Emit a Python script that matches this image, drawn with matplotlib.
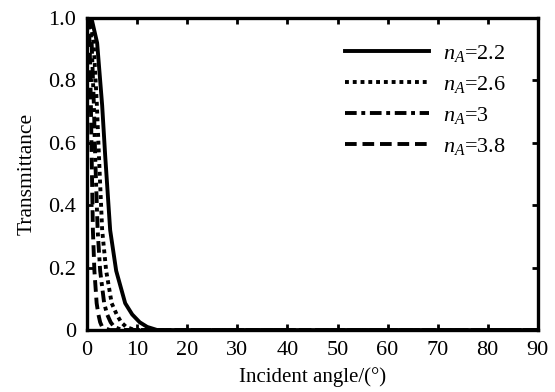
import matplotlib
matplotlib.use("Agg")
import matplotlib.pyplot as plt

plt.rcParams["font.family"] = ["Liberation Serif", "DejaVu Serif"]
plt.rcParams["mathtext.fontset"] = "custom"
plt.rcParams["mathtext.it"] = "Liberation Serif:italic"
plt.rcParams["mathtext.rm"] = "Liberation Serif"

# transmittance vs incident angle
ang_22 = [0, 1, 2, 3, 3.6, 4.6, 5.8, 7.6, 9, 10.5, 12, 14, 90]
t_22 = [1.0, 0.99, 0.92, 0.72, 0.56, 0.32, 0.19, 0.086, 0.05, 0.025, 0.01, 0, 0]

ang_26 = [0, 0.65, 1.3, 1.95, 2.35, 3.0, 3.8, 4.9, 5.9, 6.8, 7.8, 9.5, 90]
t_26 = [1.0, 0.99, 0.92, 0.72, 0.56, 0.32, 0.19, 0.086, 0.05, 0.025, 0.01, 0, 0]

ang_3 = [0, 0.45, 0.9, 1.35, 1.6, 2.1, 2.6, 3.4, 4.0, 4.7, 5.4, 7.0, 90]
t_3 = [1.0, 0.99, 0.92, 0.72, 0.56, 0.32, 0.19, 0.086, 0.05, 0.025, 0.01, 0, 0]

ang_38 = [0, 0.25, 0.5, 0.75, 0.9, 1.15, 1.45, 1.9, 2.25, 2.6, 3.0, 4.5, 90]
t_38 = [1.0, 0.99, 0.92, 0.72, 0.56, 0.32, 0.19, 0.086, 0.05, 0.025, 0.01, 0, 0]

labels = ["$n_A$=2.2", "$n_A$=2.6", "$n_A$=3", "$n_A$=3.8"]

fig = plt.figure(figsize=(5.55, 3.92), dpi=100)
ax = fig.add_axes([0.157, 0.158, 0.812, 0.796])

lw = 2.8
ax.plot(ang_22, t_22, color="black", lw=lw, linestyle="-", label=labels[0])
ax.plot(ang_26, t_26, color="black", lw=lw, linestyle=(0, (1, 1)), label=labels[1])
ax.plot(ang_3, t_3, color="black", lw=lw, linestyle=(0, (3, 1.2, 1, 1.2)), label=labels[2])
ax.plot(ang_38, t_38, color="black", lw=lw, linestyle=(0, (3, 1.5)), label=labels[3])

ax.set_xlim(0, 90)
ax.set_ylim(0, 1.0)
ax.set_xticks(range(0, 91, 10))
ax.set_yticks([0, 0.2, 0.4, 0.6, 0.8, 1.0])
ax.set_yticklabels(["0", "0.2", "0.4", "0.6", "0.8", "1.0"])
ax.tick_params(direction="in", length=4, width=2, top=True, right=True,
               labelsize=16, pad=8)
for s in ax.spines.values():
    s.set_linewidth(2.4)

ax.set_xlabel("Incident angle/(°)", fontsize=15, labelpad=5)
ax.set_ylabel("Transmittance", fontsize=15.5, labelpad=8)

ax.legend(loc="upper right", frameon=False, fontsize=16, handlelength=3.8,
          handletextpad=0.6, labelspacing=0.45, borderaxespad=0.5,
          bbox_to_anchor=(0.973, 0.984))

fig.savefig("out.png", dpi=100)
